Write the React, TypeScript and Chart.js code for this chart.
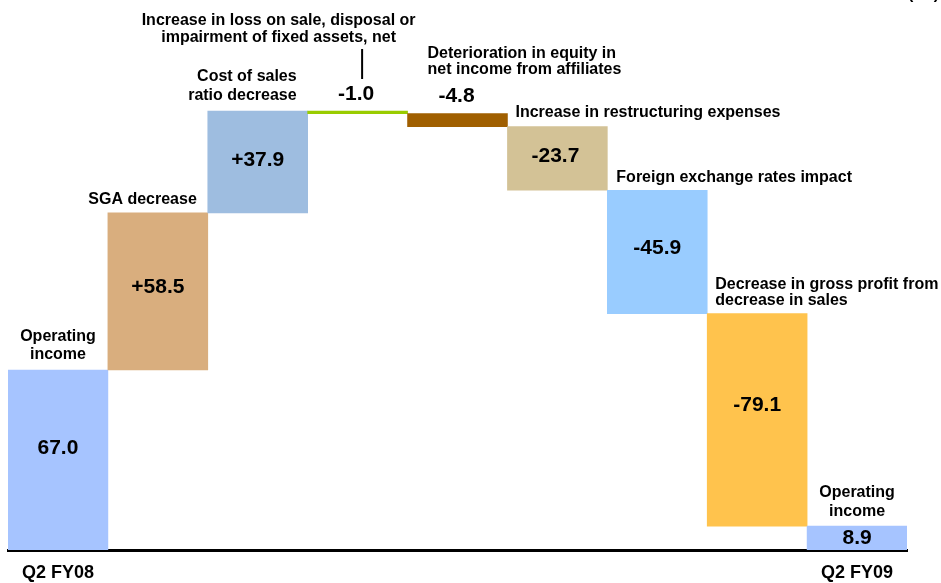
import React, { useEffect, useRef } from "react";
import { Chart, registerables } from "chart.js";

Chart.register(...registerables);

// ---- data ----
const categories = [
  "Operating\nincome",
  "SGA decrease",
  "Cost of sales\nratio decrease",
  "Increase in loss on sale, disposal or\nimpairment of fixed assets, net",
  "Deterioration in equity in\nnet income from affiliates",
  "Increase in restructuring expenses",
  "Foreign exchange rates impact",
  "Decrease in gross profit from\ndecrease in sales",
  "Operating\nincome",
];
const barKinds = ["total", "delta", "delta", "delta", "delta", "delta", "delta", "delta", "total"];
const values = [67.0, 58.5, 37.9, -1.0, -4.8, -23.7, -45.9, -79.1, 8.9];
const tickLabels = ["Q2 FY08", "", "", "", "", "", "", "", "Q2 FY09"];
const unitLabel = "(¥B)";

// ---- styles ----
const barColors = [
  "#A6C4FF",
  "#D9AE7E",
  "#9EBDE0",
  "#99CC00",
  "#A05F00",
  "#D3C296",
  "#99CCFF",
  "#FFC34D",
  "#A6C4FF",
];
const FONT = "'Liberation Sans', Arial, Helvetica, sans-serif";

// caption layout: anchor side, x offset, first line offset from bar top, line height
const captionLayout = [
  { anchor: "center", dx: 0, dy: -33, lh: 18 },
  { anchor: "right", dx: -11, dy: -13, lh: 0 },
  { anchor: "right", dx: -11, dy: -34, lh: 19 },
  { anchor: "center", dx: -79, dy: -90, lh: 17 },
  { anchor: "left", dx: 20, dy: -60, lh: 16 },
  { anchor: "left", dx: 8, dy: -14, lh: 0 },
  { anchor: "left", dx: 9, dy: -13, lh: 0 },
  { anchor: "left", dx: 8, dy: -29, lh: 16 },
  { anchor: "center", dx: 0, dy: -33, lh: 19 },
];
// value label layout: inside (offset from middle) or above (offset from top)
const valueLayout = [
  { mode: "mid", dx: 0, dy: -12 },
  { mode: "mid", dx: 0, dy: -4 },
  { mode: "mid", dx: 0, dy: -2 },
  { mode: "top", dx: -1.5, dy: -17 },
  { mode: "top", dx: -1, dy: -17 },
  { mode: "mid", dx: -2, dy: -2 },
  { mode: "mid", dx: 0, dy: -4 },
  { mode: "mid", dx: 0, dy: -15 },
  { mode: "mid", dx: 0, dy: 0 },
];

function buildRanges(): [number, number][] {
  const out: [number, number][] = [];
  let cum = 0;
  values.forEach((v, i) => {
    if (barKinds[i] === "total") {
      out.push([0, v]);
      cum = v;
    } else {
      out.push([cum, cum + v]);
      cum += v;
    }
  });
  return out;
}

function fmt(v: number, kind: string) {
  if (kind === "total") return v.toFixed(1);
  return (v > 0 ? "+" : "") + v.toFixed(1);
}

const annotPlugin = {
  id: "annot",
  afterDatasetsDraw(chart: any) {
    const ctx = chart.ctx as CanvasRenderingContext2D;
    const meta = chart.getDatasetMeta(0);
    ctx.save();
    ctx.fillStyle = "#000";
    meta.data.forEach((el: any, i: number) => {
      const { x, y, base, width } = el.getProps(["x", "y", "base", "width"], true);
      const top = Math.min(y, base);
      const bottom = Math.max(y, base);
      const left = x - width / 2;
      const right = x + width / 2;

      // caption
      const cl = captionLayout[i];
      ctx.font = `bold 16px ${FONT}`;
      ctx.textBaseline = "middle";
      let cx = x + cl.dx;
      if (cl.anchor === "left") cx = left + cl.dx;
      if (cl.anchor === "right") cx = right + cl.dx;
      ctx.textAlign = cl.anchor as CanvasTextAlign;
      categories[i].split("\n").forEach((line, j) => {
        ctx.fillText(line, cx, top + cl.dy + j * cl.lh);
      });

      // value
      const vl = valueLayout[i];
      ctx.font = `bold 21px ${FONT}`;
      ctx.textAlign = "center";
      const vy = vl.mode === "mid" ? (top + bottom) / 2 + vl.dy : top + vl.dy;
      ctx.fillText(fmt(values[i], barKinds[i]), x + vl.dx, vy);

      // leader line for the small fixed-assets bar
      if (i === 3) {
        ctx.strokeStyle = "#000";
        ctx.lineWidth = 2;
        ctx.beginPath();
        ctx.moveTo(x + 4.5, top - 62);
        ctx.lineTo(x + 4.5, top - 32);
        ctx.stroke();
      }
    });

    // unit label, clipped at top edge
    ctx.font = `bold 16px ${FONT}`;
    ctx.textAlign = "right";
    ctx.textBaseline = "alphabetic";
    ctx.fillText(unitLabel, 939, -1);
    ctx.restore();
  },
};

export default function App() {
  const ref = useRef<HTMLCanvasElement | null>(null);
  useEffect(() => {
    document.body.style.margin = "0";
    const canvas = ref.current!;
    const chart = new Chart(canvas, {
      type: "bar",
      data: {
        labels: tickLabels,
        datasets: [
          {
            data: buildRanges() as any,
            backgroundColor: barColors,
            borderWidth: 0,
            barPercentage: 1,
            categoryPercentage: 1,
            borderSkipped: false,
          },
        ],
      },
      options: {
        responsive: false,
        animation: false,
        layout: { padding: { left: 8, right: 34, top: 10, bottom: 0 } },
        plugins: { legend: { display: false }, tooltip: { enabled: false } },
        scales: {
          x: {
            grid: { display: false, drawTicks: false },
            border: { display: true, color: "#000", width: 3 },
            ticks: {
              autoSkip: false,
              maxRotation: 0,
              padding: 12,
              color: "#000",
              font: { family: FONT, size: 18, weight: "bold" },
              callback: (_v: any, idx: number) => tickLabels[idx],
            },
            afterFit: (scale: any) => {
              scale.height = 33;
            },
          },
          y: { display: false, min: 0, max: 201 },
        },
      },
      plugins: [annotPlugin],
    });
    return () => chart.destroy();
  }, []);
  return (
    <div style={{ position: "absolute", left: 0, top: 0, width: 941, height: 583 }}>
      <canvas ref={ref} width={941} height={583} style={{ display: "block" }} />
    </div>
  );
}
